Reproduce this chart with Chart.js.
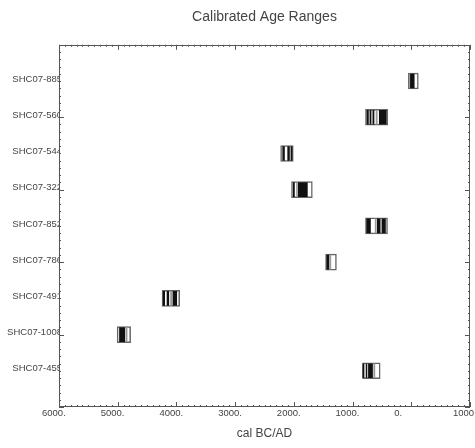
<!DOCTYPE html>
<html>
<head>
<meta charset="utf-8">
<script src="https://cdn.jsdelivr.net/npm/chart.js@4/dist/chart.umd.min.js"></script>
<style>
  body { margin: 0; background: #fff; }
  canvas { display: block; }
</style>
</head>
<body>
<canvas id="chart" width="475" height="448"></canvas>
<script>
// sample labels, top to bottom
var samples = ['SHC07-885', 'SHC07-560', 'SHC07-544', 'SHC07-322', 'SHC07-852',
               'SHC07-786', 'SHC07-491', 'SHC07-1008', 'SHC07-455'];
var rows = [1, 2, 3, 4, 5, 6, 7, 8, 9];

// years BC (positive) / AD (negative), outer range of each box
var boxFrom = [-120, 400, 2010, 1685, 405, 1275, 3945, 4780, 530];
var boxTo   = [50, 780, 2225, 2040, 780, 1460, 4245, 5010, 830];

// dark stripes inside each box
var stripe1 = [[-50, 15], [730, 755], [2160, 2190], [1990, 2010], [695, 760], [1405, 1440], [4200, 4225], [4880, 4970], [805, 825]];
var stripe2 = [null, [685, 705], [2075, 2105], [1770, 1925], [530, 580], null, [4130, 4160], null, [755, 770]];
var stripe3 = [null, [635, 655], [2030, 2050], null, [440, 500], null, [3995, 4060], null, [660, 730]];
var stripe4 = [null, [425, 545], null, null, null, null, null, null, null];
// lighter grey stripes
var stripeLight = [[20, 35], [580, 600], null, [1940, 1955], [600, 615], [1370, 1390], [4080, 4100], [4840, 4860], [620, 640]];

var xTicks = [6000, 5000, 4000, 3000, 2000, 1000, 0, -1000];

function toPoints(arr) {
    var out = [];
    arr.forEach(function (r, i) {
        if (r) out.push({ x: r, y: rows[i] });
    });
    return out;
}

var boxes = boxFrom.map(function (f, i) { return { x: [f, boxTo[i]], y: rows[i] }; });

function stripeSet(arr, color) {
    return {
        data: toPoints(arr),
        backgroundColor: color,
        borderWidth: 0,
        barThickness: 14,
        order: 1
    };
}

// frame + inward tick marks like the original plot
var framePlugin = {
    id: 'frame',
    afterDraw: function (chart) {
        var ctx = chart.ctx, a = chart.chartArea;
        var xs = chart.scales.x, ys = chart.scales.y;
        ctx.save();
        ctx.strokeStyle = '#555';
        ctx.lineWidth = 1;
        ctx.strokeRect(Math.round(a.left) + 0.5, Math.round(a.top) + 0.5,
                       Math.round(a.right - a.left) - 1, Math.round(a.bottom - a.top) - 1);
        ctx.beginPath();
        for (var v = -1000; v <= 6000; v += 100) {
            var px = Math.round(xs.getPixelForValue(v)) + 0.5;
            var len = (v % 1000 === 0) ? 5 : 2;
            ctx.moveTo(px, a.top); ctx.lineTo(px, a.top + len);
            ctx.moveTo(px, a.bottom); ctx.lineTo(px, a.bottom - len);
        }
        for (var k = 0; k <= 50; k++) {
            var r = k / 5;
            var py = Math.round(ys.getPixelForValue(r)) + 0.5;
            var l2 = (k % 10 === 0) ? 5 : 2;
            ctx.moveTo(a.left, py); ctx.lineTo(a.left + l2, py);
            ctx.moveTo(a.right, py); ctx.lineTo(a.right - l2, py);
        }
        ctx.stroke();
        ctx.restore();
    }
};

new Chart(document.getElementById('chart').getContext('2d'), {
    type: 'bar',
    data: {
        datasets: [
            stripeSet(stripe1, '#111'),
            stripeSet(stripe2, '#111'),
            stripeSet(stripe3, '#111'),
            stripeSet(stripe4, '#111'),
            stripeSet(stripeLight, '#999'),
            {
                data: boxes,
                backgroundColor: '#fff',
                borderColor: '#666',
                borderWidth: 1.5,
                borderSkipped: false,
                barThickness: 16,
                order: 2
            }
        ]
    },
    options: {
        responsive: false,
        animation: false,
        indexAxis: 'y',
        grouped: false,
        layout: { padding: { top: 0, right: 5, bottom: 0, left: 0 } },
        plugins: {
            legend: { display: false },
            tooltip: { enabled: false },
            title: {
                display: true,
                text: 'Calibrated Age Ranges',
                fullSize: false,
                color: '#444',
                font: { family: 'Liberation Sans', size: 14, weight: 'normal' },
                padding: { top: 9, bottom: 19 }
            }
        },
        scales: {
            x: {
                type: 'linear',
                reverse: true,
                min: -1000,
                max: 6000,
                grid: { display: false, drawTicks: false },
                border: { display: false },
                afterBuildTicks: function (scale) {
                    scale.ticks = xTicks.map(function (v) { return { value: v }; });
                },
                ticks: {
                    align: 'start',
                    labelOffset: -17,
                    padding: 1,
                    maxRotation: 0,
                    autoSkip: false,
                    color: '#444',
                    font: { family: 'Liberation Sans', size: 9.5 },
                    callback: function (v) { return v < 0 ? String(-v) : v + '.'; }
                },
                title: {
                    display: true,
                    text: 'cal BC/AD',
                    color: '#444',
                    font: { family: 'Liberation Sans', size: 12 },
                    padding: { top: 0, bottom: 7 }
                },
                afterFit: function (scale) {
                    scale.height = 41;
                    scale.paddingLeft = 0;
                    scale.paddingRight = 0;
                }
            },
            y: {
                type: 'linear',
                reverse: true,
                offset: false,
                min: 0,
                max: 10,
                grid: { display: false, drawTicks: false },
                border: { display: false },
                afterBuildTicks: function (scale) {
                    scale.ticks = rows.map(function (v) { return { value: v }; });
                },
                ticks: {
                    padding: -3,
                    labelOffset: -2,
                    autoSkip: false,
                    color: '#444',
                    font: { family: 'Liberation Sans', size: 9.5 },
                    callback: function (v) { return samples[v - 1] || ''; }
                },
                afterFit: function (scale) {
                    scale.width = 59;
                    scale.paddingTop = 0;
                    scale.paddingBottom = 0;
                }
            }
        }
    },
    plugins: [framePlugin]
});
</script>
</body>
</html>
